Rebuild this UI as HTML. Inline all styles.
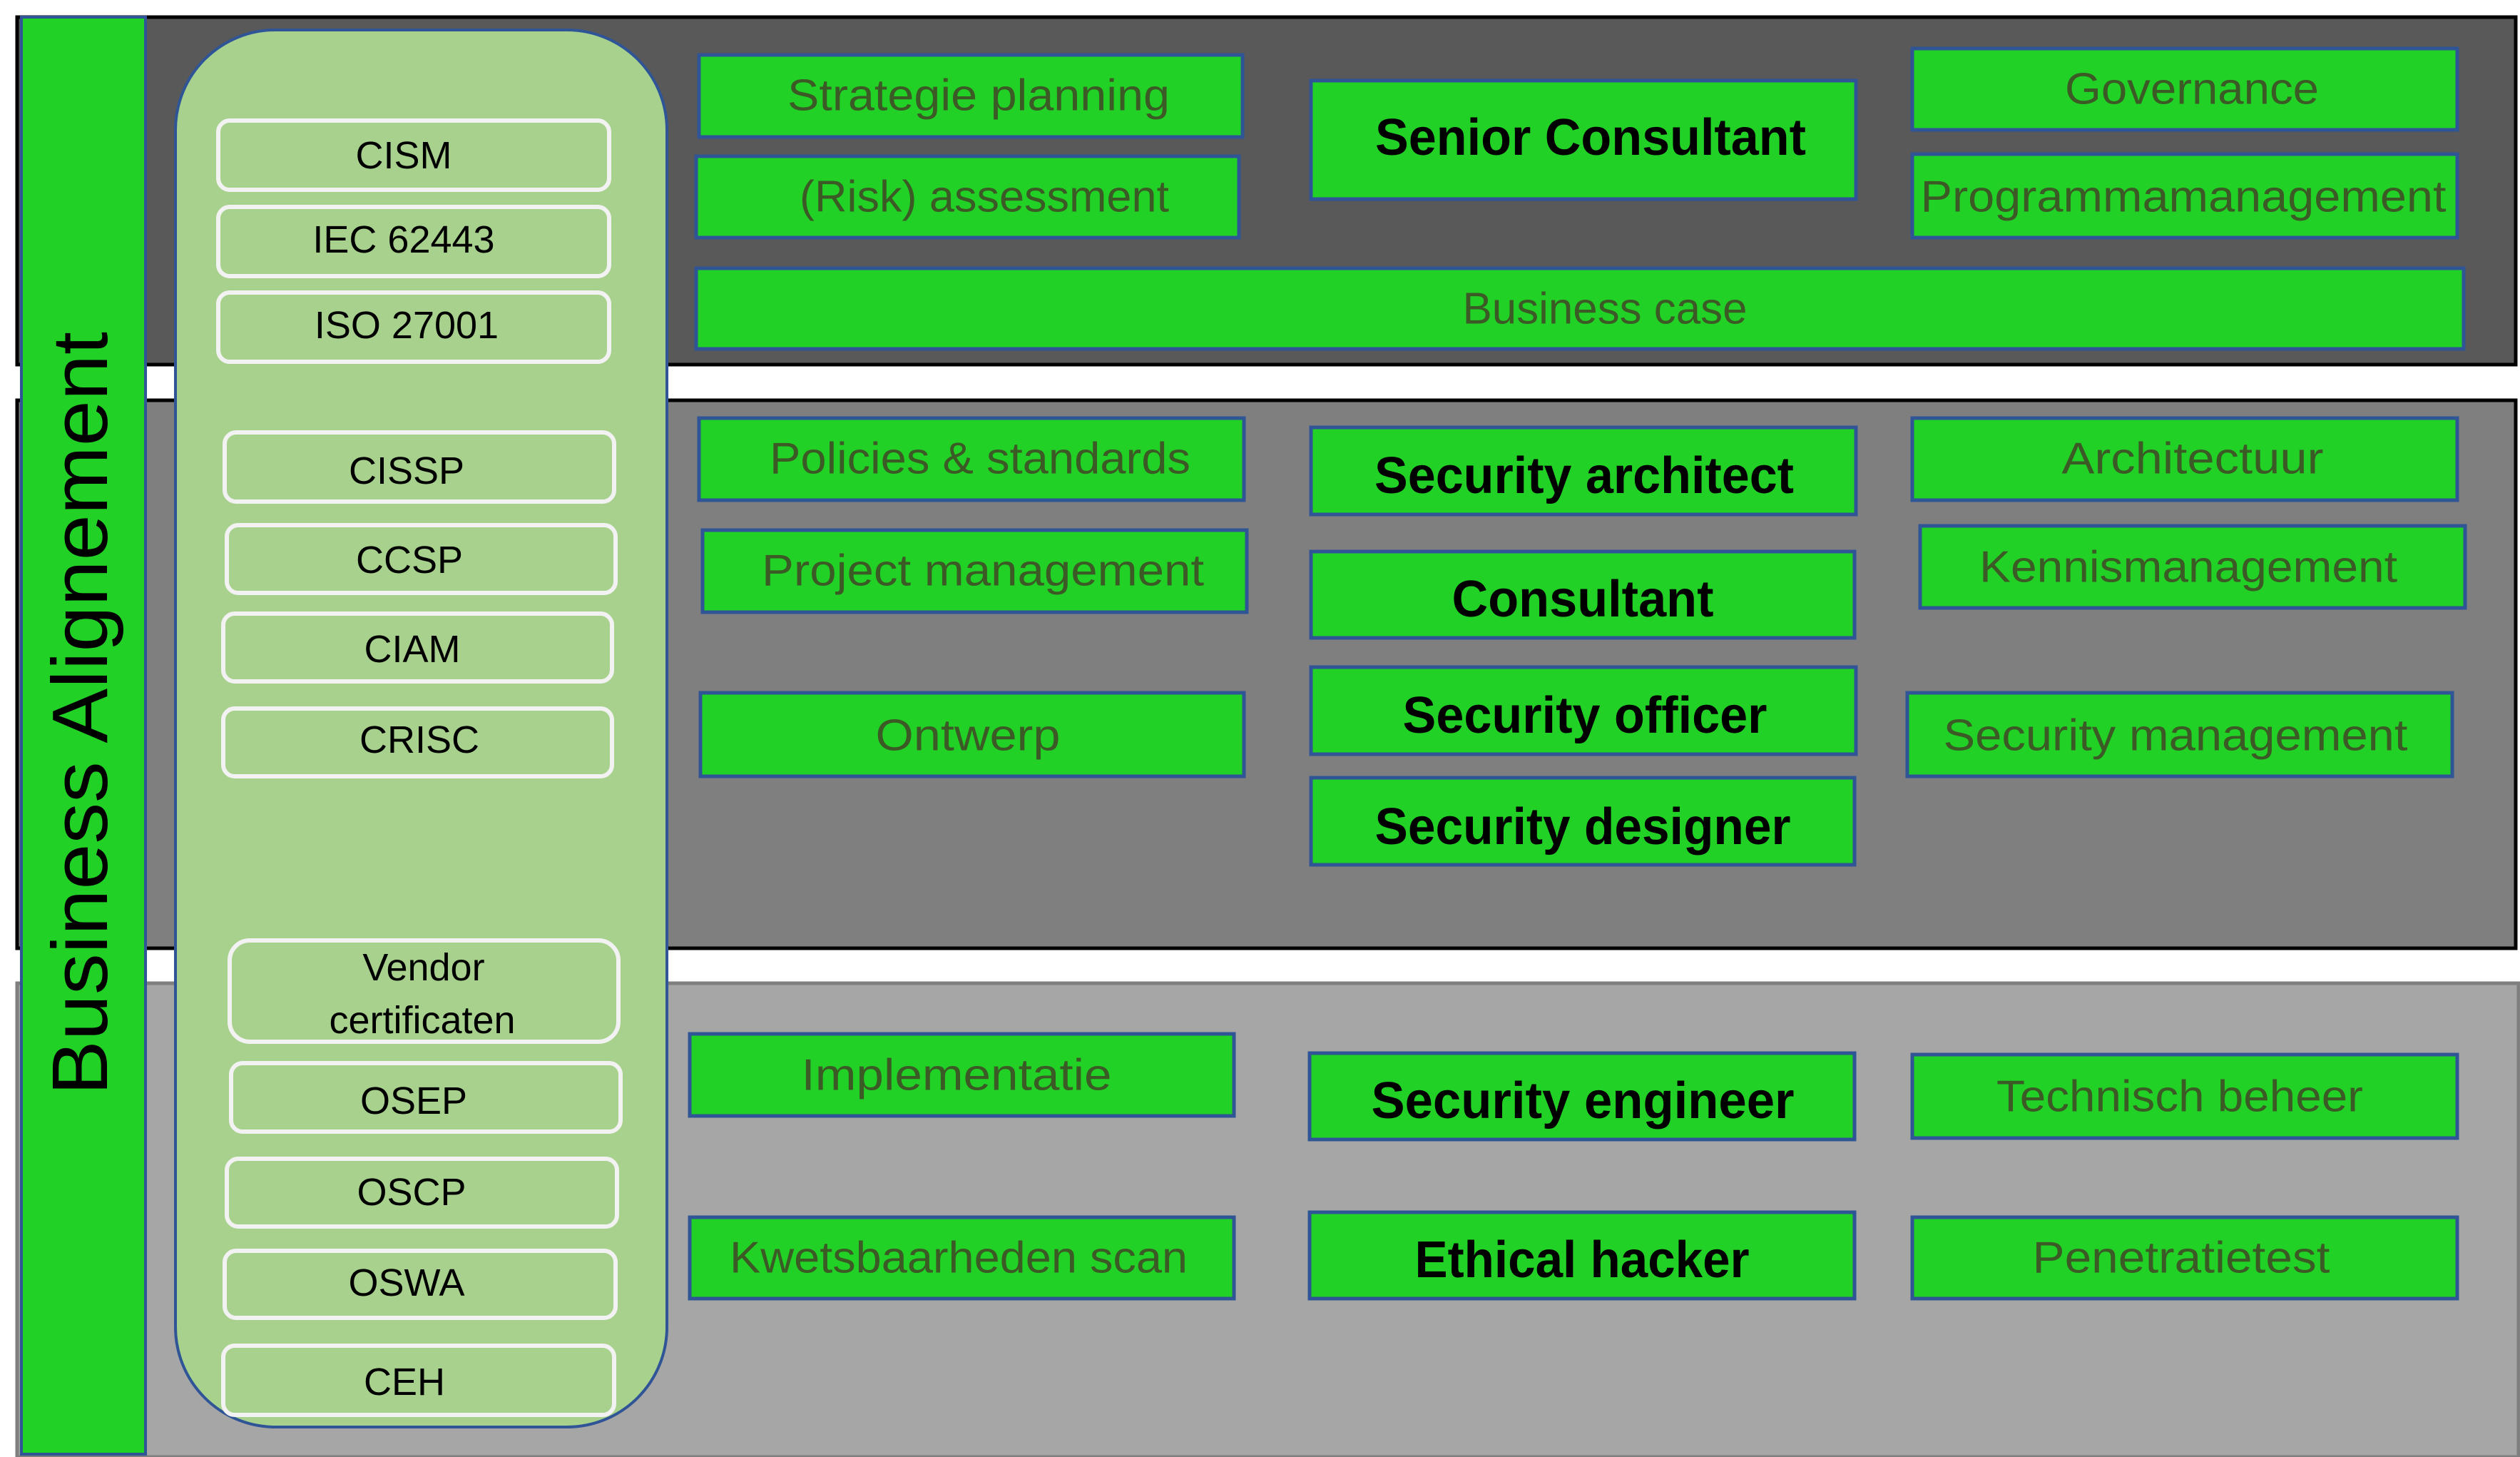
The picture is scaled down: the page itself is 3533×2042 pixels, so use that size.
<!DOCTYPE html>
<html><head><meta charset="utf-8"><style>html,body{margin:0;padding:0;background:#fff}svg{display:block}</style></head>
<body>
<svg width="3533" height="2042" viewBox="0 0 3533 2042" xmlns="http://www.w3.org/2000/svg" font-family="Liberation Sans, sans-serif">
<rect x="0" y="0" width="3533" height="2042" fill="#fff"/>
<!-- bands -->
<rect x="24" y="24" width="3503" height="487" fill="#595959" stroke="#000" stroke-width="5"/>
<rect x="24" y="561" width="3503" height="768" fill="#7f7f7f" stroke="#000" stroke-width="5"/>
<rect x="24" y="1378" width="3507" height="664" fill="#a6a6a6" stroke="#7f7f7f" stroke-width="5"/>
<!-- green bar -->
<rect x="30" y="24" width="174" height="2014" fill="#22d126" stroke="#2f5597" stroke-width="4"/>
<text transform="translate(150,1000) rotate(-90)" text-anchor="middle" font-size="110" fill="#000" textLength="1070" lengthAdjust="spacingAndGlyphs">Business Alignement</text>
<!-- rounded panel -->
<rect x="246" y="42" width="689" height="1958" rx="140" ry="140" fill="#a9d18e" stroke="#2f5597" stroke-width="4"/>
<g fill="none" stroke="#f2f2f2" stroke-width="6">
<rect x="306" y="169" width="548" height="97" rx="16"/>
<rect x="306" y="290" width="548" height="97" rx="16"/>
<rect x="306" y="410" width="548" height="97" rx="16"/>
<rect x="315" y="606" width="546" height="97" rx="16"/>
<rect x="318" y="736" width="545" height="95" rx="16"/>
<rect x="313" y="860" width="545" height="95" rx="16"/>
<rect x="313" y="993" width="545" height="95" rx="16"/>
<rect x="322" y="1318" width="545" height="142" rx="28"/>
<rect x="324" y="1490" width="546" height="96" rx="16"/>
<rect x="318" y="1624" width="547" height="95" rx="16"/>
<rect x="315" y="1753" width="548" height="94" rx="16"/>
<rect x="313" y="1886" width="548" height="97" rx="16"/>
</g>
<g font-size="54" fill="#000" text-anchor="middle" dominant-baseline="central">
<text x="566" y="218">CISM</text>
<text x="566" y="336">IEC 62443</text>
<text x="570" y="456">ISO 27001</text>
<text x="570" y="660">CISSP</text>
<text x="574" y="785">CCSP</text>
<text x="578" y="910">CIAM</text>
<text x="588" y="1037">CRISC</text>
<text x="594" y="1356">Vendor</text>
<text x="592" y="1430">certificaten</text>
<text x="580" y="1543">OSEP</text>
<text x="577" y="1671">OSCP</text>
<text x="570" y="1798">OSWA</text>
<text x="567" y="1937">CEH</text>
</g>
<!-- green boxes -->
<g fill="#22d126" stroke="#2f5597" stroke-width="5">
<rect x="980" y="77" width="762" height="115"/>
<rect x="976" y="219" width="761" height="114"/>
<rect x="1838" y="113" width="764" height="166"/>
<rect x="2681" y="68" width="764" height="114"/>
<rect x="2681" y="216" width="764" height="117"/>
<rect x="976" y="376" width="2478" height="113"/>
<rect x="980" y="586" width="764" height="115"/>
<rect x="1838" y="599" width="764" height="122"/>
<rect x="2681" y="586" width="764" height="115"/>
<rect x="985" y="743" width="763" height="115"/>
<rect x="1838" y="773" width="762" height="121"/>
<rect x="2692" y="737" width="764" height="115"/>
<rect x="982" y="971" width="762" height="117"/>
<rect x="1838" y="935" width="764" height="122"/>
<rect x="2674" y="971" width="764" height="117"/>
<rect x="1838" y="1090" width="762" height="122"/>
<rect x="967" y="1449" width="763" height="115"/>
<rect x="1836" y="1476" width="764" height="121"/>
<rect x="2681" y="1478" width="764" height="117"/>
<rect x="967" y="1706" width="763" height="114"/>
<rect x="1836" y="1699" width="764" height="121"/>
<rect x="2681" y="1706" width="764" height="114"/>
</g>
<g font-size="62" fill="#3b5a26" text-anchor="middle" dominant-baseline="central" lengthAdjust="spacingAndGlyphs">
<text x="1372" y="134" textLength="536" lengthAdjust="spacingAndGlyphs">Strategie planning</text>
<text x="1380" y="276" textLength="518" lengthAdjust="spacingAndGlyphs">(Risk) assessment</text>
<text x="3073" y="125" textLength="356" lengthAdjust="spacingAndGlyphs">Governance</text>
<text x="3061" y="276" textLength="737" lengthAdjust="spacingAndGlyphs">Programmamanagement</text>
<text x="2250" y="433" textLength="399" lengthAdjust="spacingAndGlyphs">Business case</text>
<text x="1374" y="643" textLength="590" lengthAdjust="spacingAndGlyphs">Policies &amp; standards</text>
<text x="3074" y="643" textLength="367" lengthAdjust="spacingAndGlyphs">Architectuur</text>
<text x="1378" y="800" textLength="620" lengthAdjust="spacingAndGlyphs">Project management</text>
<text x="3068" y="795" textLength="586" lengthAdjust="spacingAndGlyphs">Kennismanagement</text>
<text x="1357" y="1031" textLength="259" lengthAdjust="spacingAndGlyphs">Ontwerp</text>
<text x="3050" y="1031" textLength="651" lengthAdjust="spacingAndGlyphs">Security management</text>
<text x="1341" y="1507" textLength="435" lengthAdjust="spacingAndGlyphs">Implementatie</text>
<text x="3056" y="1537" textLength="514" lengthAdjust="spacingAndGlyphs">Technisch beheer</text>
<text x="1344" y="1763" textLength="642" lengthAdjust="spacingAndGlyphs">Kwetsbaarheden scan</text>
<text x="3058" y="1763" textLength="417" lengthAdjust="spacingAndGlyphs">Penetratietest</text>
</g>
<g font-size="72" font-weight="bold" fill="#000" text-anchor="middle" dominant-baseline="central">
<text x="2230" y="193" textLength="604" lengthAdjust="spacingAndGlyphs">Senior Consultant</text>
<text x="2221" y="667" textLength="588" lengthAdjust="spacingAndGlyphs">Security architect</text>
<text x="2219" y="840" textLength="367" lengthAdjust="spacingAndGlyphs">Consultant</text>
<text x="2222" y="1003" textLength="511" lengthAdjust="spacingAndGlyphs">Security officer</text>
<text x="2219" y="1159" textLength="583" lengthAdjust="spacingAndGlyphs">Security designer</text>
<text x="2219" y="1543" textLength="593" lengthAdjust="spacingAndGlyphs">Security engineer</text>
<text x="2218" y="1766" textLength="469" lengthAdjust="spacingAndGlyphs">Ethical hacker</text>
</g>
</svg>
</body></html>
